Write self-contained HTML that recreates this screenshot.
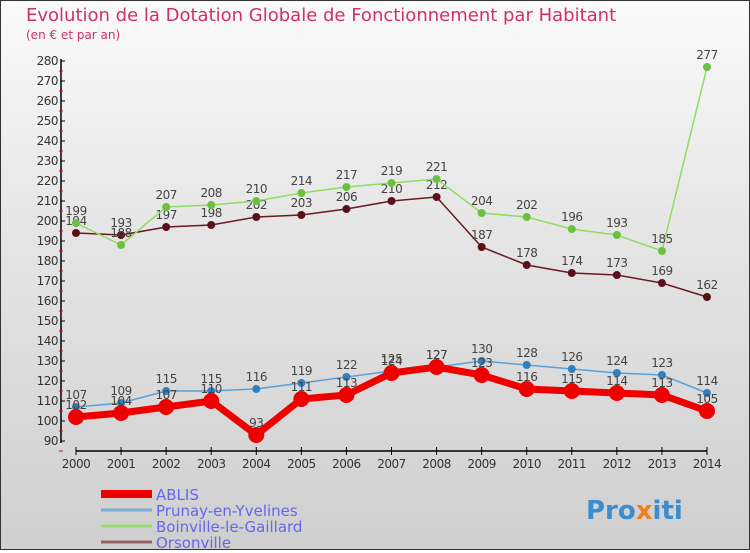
<!DOCTYPE html>
<html><head><meta charset="utf-8"><style>
body{margin:0;width:750px;height:550px;overflow:hidden;font-family:"DejaVu Sans","Liberation Sans",sans-serif}
#wrap{position:relative;width:748px;height:548px;border:1px solid #333;background:linear-gradient(#fafafa,#e6e6e6 40%,#cfcfcf)}
</style></head><body>
<div id="wrap">
<svg id="chart" width="748" height="548">
<text x="25" y="20" font-size="18" fill="#d0306a">Evolution de la Dotation Globale de Fonctionnement par Habitant</text>
<text x="25" y="38" font-size="12" fill="#d0306a">(en € et par an)</text>
<g id="axes"></g><g id="series"></g><g id="legend"></g>
<text x="585" y="518" font-size="26" font-weight="bold" fill="#3a8ed0">Pro<tspan fill="#f08020">x</tspan>iti</text>
</svg></div>
<script>
const years=[2000,2001,2002,2003,2004,2005,2006,2007,2008,2009,2010,2011,2012,2013,2014];
const yTicks=[90,100,110,120,130,140,150,160,170,180,190,200,210,220,230,240,250,260,270,280];
const ablis=[102,104,107,110,93,111,113,124,127,123,116,115,114,113,105];
const prunay=[107,109,115,115,116,119,122,125,127,130,128,126,124,123,114];
const boinville=[199,188,207,208,210,214,217,219,221,204,202,196,193,185,277];
const orsonville=[194,193,197,198,202,203,206,210,212,187,178,174,173,169,162];
const names=["ABLIS","Prunay-en-Yvelines","Boinville-le-Gaillard","Orsonville"];
const NS="http://www.w3.org/2000/svg";
const xs=i=>75+i*(706-75)/(years.length-1);
const ys=v=>60+(280-v)*2;
function mk(t,a,p){const e=document.createElementNS(NS,t);for(const k in a)e.setAttribute(k,a[k]);p.appendChild(e);return e;}
const ax=document.getElementById('axes');
let e=mk('line',{x1:60,y1:58,x2:60,y2:442,stroke:'#000','stroke-width':1.5},ax);

yTicks.forEach(v=>{
 mk('line',{x1:60,x2:64,y1:ys(v),y2:ys(v),stroke:'#000'},ax);
 mk('line',{x1:58,x2:62,y1:ys(v)+10,y2:ys(v)+10,stroke:'#e00'},ax);
 const t=mk('text',{x:57,y:ys(v)+4,'text-anchor':'end','font-size':12,fill:'#333','letter-spacing':'-0.5'},ax);t.textContent=v;
 
});
e=mk('line',{x1:75,y1:450,x2:706,y2:450,stroke:'#000','stroke-width':1.5},ax);

years.forEach((y,i)=>{
 mk('line',{x1:xs(i),x2:xs(i),y1:446,y2:454,stroke:'#000'},ax);
 const t=mk('text',{x:xs(i),y:467,'text-anchor':'middle','font-size':12,fill:'#333','letter-spacing':'-0.5'},ax);t.textContent=y;
 
});
const sg=document.getElementById('series');
const defs=[[orsonville,'#6a1a20','#5a1018',1.5,4],[boinville,'#8fdc60','#6cc040',1.5,4],[prunay,'#5aa0d8','#3080c0',1.5,4],[ablis,'#ee0000','#ee0000',7,8]];
const keys=['orsonville','boinville','prunay','ablis'];
defs.forEach((d,k)=>{
 const g=mk('g',{},sg);
 
 const pts=d[0].map((v,i)=>xs(i)+','+ys(v)).join(' ');
 mk('polyline',{points:pts,fill:'none',stroke:d[1],'stroke-width':d[3]},g);
 d[0].forEach((v,i)=>{
  const c=mk('circle',{cx:xs(i),cy:ys(v),r:d[4],fill:d[2]},g);
  
  const t=mk('text',{x:xs(i),y:ys(v)-8,'text-anchor':'middle','font-size':12,fill:'#444','letter-spacing':'-0.5'},g);t.textContent=v;
  
 });
});
const lg=document.getElementById('legend');
const lc=['#ee0000','#7aaed0','#9ad870','#9a6060'],lw=[8,3,3,3];
names.forEach((n,i)=>{
 const y=493+i*16;
 const l=mk('line',{x1:100,x2:151,y1:y,y2:y,stroke:lc[i],'stroke-width':lw[i]},lg);
 
 const t=mk('text',{x:155,y:y+6,'font-size':15,fill:'#6666ee'},lg);t.textContent=n;
 
});
</script></body></html>
